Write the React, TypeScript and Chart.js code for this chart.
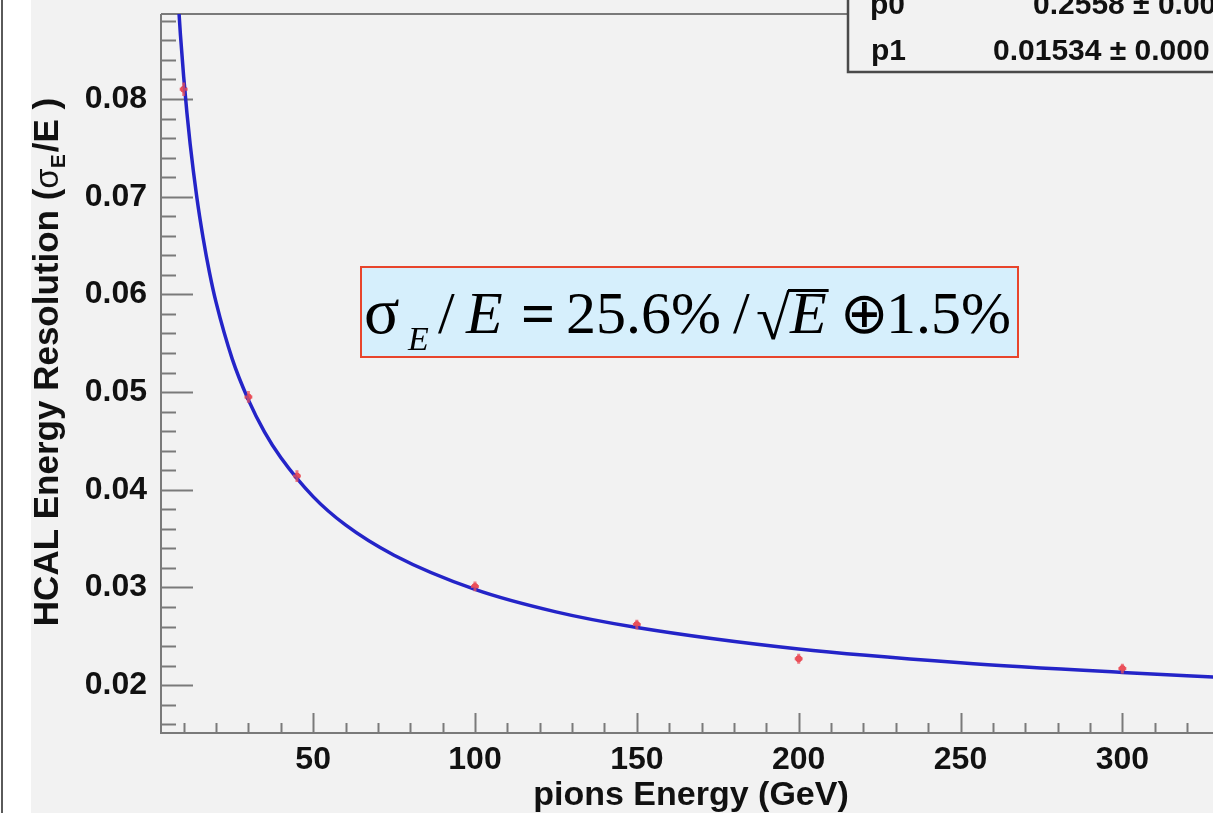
import React, { useEffect, useRef } from 'react';
import { Chart, registerables } from 'chart.js';

Chart.register(...registerables);

// ---- data ----
const energies = [10, 30, 45, 100, 150, 200, 300];
const resolution = [0.081, 0.0495, 0.0414, 0.0301, 0.0262, 0.0227, 0.0217];
const resolutionErr = [0.0007, 0.0006, 0.0006, 0.0005, 0.0005, 0.0005, 0.0005];

const fitEnergy = [8, 9, 10, 11, 12, 14, 16, 18, 20, 25, 30, 35, 40, 50, 60, 75, 100, 125, 150, 200, 250, 300, 330];
const fitResolution = [
  0.0917, 0.0866, 0.0823, 0.0786, 0.0754, 0.0701, 0.0658, 0.0622, 0.0592, 0.0534, 0.0492, 0.0459,
  0.0433, 0.0393, 0.0364, 0.0333, 0.0298, 0.0275, 0.0259, 0.0237, 0.0223, 0.0213, 0.0208,
];

const xRange = [3, 328];
const yRange = [0.0151, 0.0887];
const xStep = 50;
const yStep = 0.01;

const xTitle = 'pions Energy (GeV)';
const yTitleParts = ['HCAL Energy Resolution (', 'σ', 'E', '/E )'];
const statNames = ['p0', 'p1'];
const statValues = ['0.2558 ± 0.00', '0.01534 ± 0.000'];

const SANS = '"Liberation Sans", Arial, Helvetica, sans-serif';
const SERIF = '"Liberation Serif", "Times New Roman", "DejaVu Serif", serif';

const rootPlugin = {
  id: 'rootStyle',
  beforeDraw(chart: any) {
    const { ctx, width, height } = chart;
    ctx.save();
    ctx.fillStyle = '#f2f2f2';
    ctx.fillRect(0, 0, width, height);
    ctx.fillStyle = '#ffffff';
    ctx.fillRect(0, 0, 31, height);
    ctx.fillStyle = '#5a5a5a';
    ctx.fillRect(1, 0, 2, height);
    ctx.restore();
  },
  beforeDatasetsDraw(chart: any) {
    const { ctx, chartArea: a } = chart;
    const x = chart.scales.x;
    const y = chart.scales.y;
    ctx.save();
    ctx.strokeStyle = '#7a7a7a';
    ctx.lineWidth = 2;
    ctx.beginPath();
    ctx.moveTo(a.left, a.top);
    ctx.lineTo(a.right + 2, a.top);
    ctx.moveTo(a.left, a.top);
    ctx.lineTo(a.left, a.bottom);
    ctx.lineTo(a.right + 2, a.bottom);
    ctx.stroke();

    // y ticks (inward)
    ctx.beginPath();
    for (let k = Math.ceil(y.min * 500 - 1e-9); k <= Math.floor(y.max * 500 + 1e-9); k++) {
      const py = Math.round(y.getPixelForValue(k / 500)) + 0.5;
      const len = k % 5 === 0 ? 32 : 15;
      ctx.moveTo(a.left, py);
      ctx.lineTo(a.left + len, py);
    }
    // x ticks (inward)
    for (let k = Math.ceil(x.min / 10); k <= Math.floor(x.max / 10); k++) {
      const px = Math.round(x.getPixelForValue(k * 10)) + 0.5;
      const len = k % 5 === 0 ? 20 : 10;
      ctx.moveTo(px, a.bottom);
      ctx.lineTo(px, a.bottom - len);
    }
    ctx.stroke();
    ctx.restore();
  },
  afterDatasetsDraw(chart: any) {
    const { ctx } = chart;
    const x = chart.scales.x;
    const y = chart.scales.y;
    ctx.save();
    // error bars
    ctx.strokeStyle = 'rgba(235, 80, 90, 0.75)';
    ctx.lineWidth = 3;
    ctx.lineCap = 'butt';
    ctx.beginPath();
    energies.forEach((e, i) => {
      const px = x.getPixelForValue(e);
      const y1 = y.getPixelForValue(resolution[i] + resolutionErr[i]);
      const y2 = y.getPixelForValue(resolution[i] - resolutionErr[i]);
      const pc = y.getPixelForValue(resolution[i]);
      ctx.moveTo(px, y1);
      ctx.lineTo(px, y2);
      ctx.moveTo(px - 4, pc);
      ctx.lineTo(px + 4, pc);
    });
    ctx.stroke();
    ctx.restore();
  },
  afterDraw(chart: any) {
    const { ctx, chartArea: a, width } = chart;
    ctx.save();

    // y title (rotated, with subscript)
    ctx.translate(46, 362);
    ctx.rotate(-Math.PI / 2);
    ctx.fillStyle = '#111';
    ctx.textBaseline = 'alphabetic';
    ctx.textAlign = 'left';
    const fonts = [
      `bold 35px ${SANS}`,
      `33px ${SANS}`,
      `bold 21px ${SANS}`,
      `bold 35px ${SANS}`,
    ];
    const widths = yTitleParts.map((t, i) => {
      ctx.font = fonts[i];
      return ctx.measureText(t).width;
    });
    const total = widths.reduce((s, w) => s + w, 0) + 2;
    let cx = -total / 2;
    yTitleParts.forEach((t, i) => {
      ctx.font = fonts[i];
      const base = i === 2 ? 19 : 12;
      ctx.fillText(t, cx, base);
      cx += widths[i] + (i === 2 ? 2 : 0);
    });
    ctx.setTransform(1, 0, 0, 1, 0, 0);

    // x title
    ctx.font = `bold 34px ${SANS}`;
    ctx.textAlign = 'center';
    ctx.fillStyle = '#111';
    ctx.fillText(xTitle, (a.left + a.right) / 2 + 4, 805);

    // formula box
    ctx.fillStyle = '#d6effc';
    ctx.fillRect(361, 267, 657, 90);
    ctx.strokeStyle = '#e8452c';
    ctx.lineWidth = 2;
    ctx.strokeRect(361, 267, 657, 90);

    ctx.fillStyle = '#000';
    ctx.textAlign = 'left';
    const base = 333;
    ctx.font = `66px ${SERIF}`;
    ctx.fillText('σ', 364, base);
    ctx.font = `italic 34px ${SERIF}`;
    ctx.fillText('E', 408, 350);
    ctx.font = `60px ${SERIF}`;
    ctx.fillText('/', 438, base);
    ctx.font = `italic 60px ${SERIF}`;
    ctx.fillText('E', 466, base);
    ctx.font = `bold 60px ${SERIF}`;
    ctx.fillText('=', 521, base);
    ctx.font = `60px ${SERIF}`;
    ctx.fillText('25.6%', 566, base);
    ctx.fillText('/', 733, base);
    ctx.font = `62px ${SERIF}`;
    ctx.fillText('√', 756, base + 6);
    const sq = ctx.measureText('√');
    const sqTop = base + 6 - sq.actualBoundingBoxAscent;
    const sqRight = 756 + sq.width;
    ctx.font = `italic 60px ${SERIF}`;
    ctx.fillText('E', 790, base);
    const eW = ctx.measureText('E').width;
    ctx.strokeStyle = '#000';
    ctx.lineWidth = 3;
    ctx.beginPath();
    ctx.moveTo(sqRight - 2, sqTop + 1.5);
    ctx.lineTo(790 + eW + 2, sqTop + 1.5);
    ctx.stroke();
    ctx.font = `58px "DejaVu Sans", ${SERIF}`;
    ctx.fillText('⊕', 840, base);
    ctx.font = `60px ${SERIF}`;
    ctx.fillText('1.5%', 886, base);

    // stats box (top right, cropped)
    ctx.fillStyle = '#f2f2f2';
    ctx.fillRect(848, 0, width - 848, 72);
    ctx.strokeStyle = '#4a4a4a';
    ctx.lineWidth = 2.5;
    ctx.beginPath();
    ctx.moveTo(848, 0);
    ctx.lineTo(848, 72);
    ctx.lineTo(width, 72);
    ctx.stroke();
    ctx.fillStyle = '#111';
    ctx.font = `bold 30px ${SANS}`;
    ctx.fillText(statNames[0], 870, 14);
    ctx.fillText(statNames[1], 871, 60);
    ctx.fillText(statValues[0], 1033, 14);
    ctx.fillText(statValues[1], 993, 60);
    ctx.restore();
  },
};

export default function App() {
  const ref = useRef<HTMLCanvasElement | null>(null);

  useEffect(() => {
    if (!ref.current) return;
    const chart = new Chart(ref.current, {
      type: 'scatter',
      data: {
        datasets: [
          {
            type: 'line',
            label: 'fit',
            data: fitEnergy.map((e, i) => ({ x: e, y: fitResolution[i] })),
            borderColor: '#2424c8',
            borderWidth: 3.5,
            pointRadius: 0,
            cubicInterpolationMode: 'monotone',
            fill: false,
            order: 0,
          },
          {
            label: 'data',
            data: energies.map((e, i) => ({ x: e, y: resolution[i] })),
            backgroundColor: 'rgba(232, 70, 80, 0.95)',
            borderColor: 'rgba(232, 70, 80, 0.95)',
            pointRadius: 3,
            showLine: false,
            order: 1,
          },
        ],
      } as any,
      options: {
        responsive: false,
        animation: false,
        layout: { autoPadding: false, padding: { left: 0, top: 14, right: 0, bottom: 0 } },
        plugins: {
          legend: { display: false },
          tooltip: { enabled: false },
        },
        scales: {
          x: {
            type: 'linear',
            min: xRange[0],
            max: xRange[1],
            grid: { display: false },
            border: { display: false },
            ticks: {
              stepSize: xStep,
              includeBounds: false,
              padding: 0,
              color: '#111',
              font: { family: SANS, size: 32, weight: 'bold' },
              maxRotation: 0,
              autoSkip: false,
            },
            afterFit: (s: any) => {
              s.height = 80;
              s.paddingLeft = 0;
              s.paddingRight = 0;
            },
          },
          y: {
            type: 'linear',
            min: yRange[0],
            max: yRange[1],
            grid: { display: false },
            border: { display: false },
            ticks: {
              stepSize: yStep,
              includeBounds: false,
              padding: 6,
              color: '#111',
              font: { family: SANS, size: 32, weight: 'bold' },
              callback: (v: any) => Number(v).toFixed(2),
              autoSkip: false,
            },
            afterFit: (s: any) => {
              s.width = 161;
              s.paddingTop = 0;
              s.paddingBottom = 0;
            },
          },
        },
      } as any,
      plugins: [rootPlugin],
    });
    return () => chart.destroy();
  }, []);

  return (
    <div style={{ position: 'fixed', left: 0, top: 0, width: 1213, height: 813, overflow: 'hidden' }}>
      <canvas ref={ref} width={1213} height={813} style={{ display: 'block' }} />
    </div>
  );
}
